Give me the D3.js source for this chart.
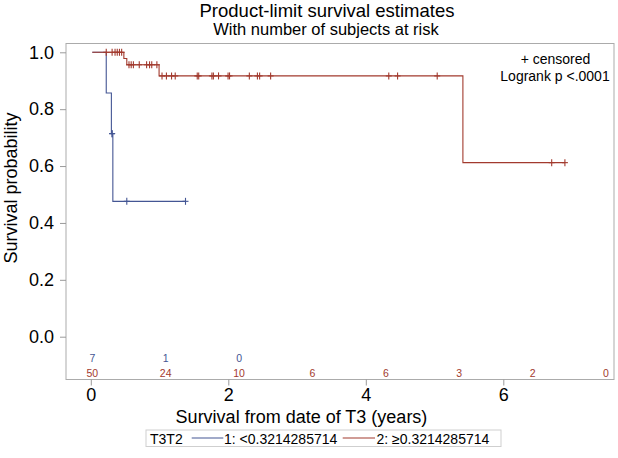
<!DOCTYPE html>
<html>
<head>
<meta charset="utf-8">
<script src="https://cdn.jsdelivr.net/npm/d3@7"></script>
<style>
  html, body { margin: 0; padding: 0; background: #fff; }
  svg { display: block; font-family: "Liberation Sans", Arial, Helvetica, sans-serif; }
</style>
</head>
<body>
<svg id="chart" width="618" height="458"></svg>
<script>
// ---- data ----
const xTicks = [0, 2, 4, 6];
const yTicks = [0.0, 0.2, 0.4, 0.6, 0.8, 1.0];
const riskTimes = [0, 1, 2, 3, 4, 5, 6, 7];
const blueRisk = [7, 1, 0];
const redRisk = [50, 24, 10, 6, 6, 3, 2, 0];

const blueStepTimes = [0, 0.19, 0.26, 0.28];
const blueStepSurv  = [1.0, 0.857, 0.714, 0.476];
const blueEndTime = 1.27;
const blueCensorTimes = [0.27, 0.27, 0.47, 1.27];

const redStepTimes = [0, 0.43, 0.47, 0.91, 5.05];
const redStepSurv  = [1.0, 0.978, 0.956, 0.917, 0.612];
const redEndTime = 6.44;
const redCensorTimes = [0.19, 0.27, 0.31, 0.34, 0.37, 0.40, 0.50, 0.53, 0.56, 0.64, 0.74, 0.78, 0.81, 0.88,
  0.95, 1.01, 1.08, 1.13, 1.43, 1.45, 1.63, 1.65, 1.72, 1.85, 1.87, 2.14, 2.25, 2.28, 2.43,
  4.04, 4.16, 4.70, 6.26, 6.44];

const groupLabels = ["1: <0.3214285714", "2: \u22650.3214285714"];
const colors = ["#445694", "#A23A2E"];

// ---- layout ----
const svg = d3.select("#chart");
const frame = { left: 66, top: 43.5, right: 614, bottom: 379.5 };
const xData = d3.scaleLinear().domain([0, 7]).range([92.3, 606]);
const xAxisScale = d3.scaleLinear().domain([0, 6]).range([90.8, 503.3]);
const y = d3.scaleLinear().domain([0, 1]).range([336.7, 52.3]);

// titles
svg.append("text").attr("x", 327).attr("y", 16.5).attr("text-anchor", "middle")
  .attr("font-size", 18.5).attr("fill", "#000").text("Product-limit survival estimates");
svg.append("text").attr("x", 326).attr("y", 34.5).attr("text-anchor", "middle")
  .attr("font-size", 16.5).attr("fill", "#000").text("With number of subjects at risk");

// frame
svg.append("rect").attr("x", frame.left).attr("y", frame.top)
  .attr("width", frame.right - frame.left).attr("height", frame.bottom - frame.top)
  .attr("fill", "none").attr("stroke", "#ababab").attr("stroke-width", 1);

// axes
const yAxis = d3.axisLeft(y).tickValues(yTicks).tickFormat(d3.format(".1f")).tickSize(6).tickPadding(6);
const gy = svg.append("g").attr("transform", `translate(${frame.left},0)`).call(yAxis);
gy.select(".domain").remove();
gy.selectAll(".tick line").attr("stroke", "#9a9a9a");
gy.selectAll(".tick text").attr("font-size", 18).attr("fill", "#000")
  .attr("font-family", "Liberation Sans, Arial, sans-serif");

const xAxis = d3.axisBottom(xAxisScale).tickValues(xTicks).tickFormat(d3.format("d")).tickSize(6).tickPadding(3);
const gx = svg.append("g").attr("transform", `translate(0,${frame.bottom})`).call(xAxis);
gx.select(".domain").remove();
gx.selectAll(".tick line").attr("stroke", "#9a9a9a");
gx.selectAll(".tick text").attr("font-size", 18).attr("fill", "#000")
  .attr("font-family", "Liberation Sans, Arial, sans-serif");

// axis labels
svg.append("text").attr("transform", "translate(17,188) rotate(-90)").attr("text-anchor", "middle")
  .attr("font-size", 18).attr("fill", "#000").text("Survival probability");
svg.append("text").attr("x", 301.5).attr("y", 423).attr("text-anchor", "middle")
  .attr("font-size", 18).attr("fill", "#000").text("Survival from date of T3 (years)");

// curves
function stepPoints(times, surv, endTime) {
  const pts = times.map((t, i) => [t, surv[i]]);
  pts.push([endTime, surv[surv.length - 1]]);
  return pts;
}
function survAt(times, surv, t) {
  let s = surv[0];
  for (let i = 0; i < times.length; i++) if (times[i] <= t) s = surv[i];
  return s;
}
const line = d3.line().x(d => xData(d[0])).y(d => y(d[1])).curve(d3.curveStepAfter);

const groups = [
  { times: blueStepTimes, surv: blueStepSurv, end: blueEndTime, cens: blueCensorTimes, color: colors[0] },
  { times: redStepTimes, surv: redStepSurv, end: redEndTime, cens: redCensorTimes, color: colors[1] }
];

groups.forEach(g => {
  svg.append("path").attr("d", line(stepPoints(g.times, g.surv, g.end)))
    .attr("fill", "none").attr("stroke", g.color).attr("stroke-width", 1.1);
  const cg = svg.append("g");
  g.cens.forEach(t => {
    const cx = xData(t), cy = y(survAt(g.times, g.surv, t));
    cg.append("line").attr("x1", cx).attr("x2", cx).attr("y1", cy - 3.5).attr("y2", cy + 3.5)
      .attr("stroke", g.color).attr("stroke-width", 1.1);
    cg.append("line").attr("x1", cx - 3).attr("x2", cx + 3).attr("y1", cy).attr("y2", cy)
      .attr("stroke", g.color).attr("stroke-width", 1.1);
  });
});

// at-risk numbers
svg.append("g").selectAll("text").data(blueRisk).join("text")
  .attr("x", (d, i) => xData(riskTimes[i])).attr("y", 361.5).attr("text-anchor", "middle")
  .attr("font-size", 10.5).attr("fill", colors[0]).text(d => d);
svg.append("g").selectAll("text").data(redRisk).join("text")
  .attr("x", (d, i) => xData(riskTimes[i])).attr("y", 376.5).attr("text-anchor", "middle")
  .attr("font-size", 10.5).attr("fill", colors[1]).text(d => d);

// inset text
svg.append("text").attr("x", 555.5).attr("y", 63.5).attr("text-anchor", "middle")
  .attr("font-size", 14).attr("fill", "#000").text("+ censored");
svg.append("text").attr("x", 555).attr("y", 80.5).attr("text-anchor", "middle")
  .attr("font-size", 14).attr("fill", "#000").text("Logrank p <.0001");

// legend
const lg = svg.append("g");
lg.append("rect").attr("x", 146).attr("y", 430).attr("width", 355).attr("height", 16.5)
  .attr("fill", "#fff").attr("stroke", "#cfcfcf");
lg.append("text").attr("x", 150).attr("y", 443.5).attr("font-size", 14).attr("fill", "#000").text("T3T2");
const legItems = [
  { x1: 191.7, x2: 223.3, tx: 224, label: groupLabels[0], color: colors[0] },
  { x1: 342.7, x2: 375, tx: 376.5, label: groupLabels[1], color: colors[1] }
];
legItems.forEach(it => {
  lg.append("line").attr("x1", it.x1).attr("x2", it.x2).attr("y1", 438).attr("y2", 438)
    .attr("stroke", it.color).attr("stroke-width", 1.1);
  lg.append("text").attr("x", it.tx).attr("y", 443.5).attr("font-size", 14).attr("fill", "#000").text(it.label);
});
</script>
</body>
</html>
